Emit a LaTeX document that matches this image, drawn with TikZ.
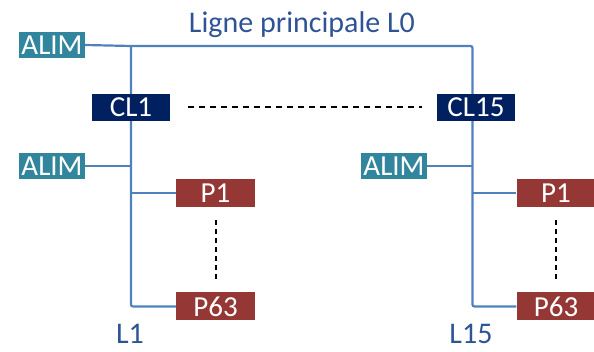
\documentclass[tikz,border=0pt]{standalone}
\usepackage{fontspec}
\setmainfont{Carlito}
\usetikzlibrary{backgrounds}
\definecolor{alimc}{HTML}{31859C}
\definecolor{clc}{HTML}{002060}
\definecolor{pc}{HTML}{953735}
\definecolor{wirec}{HTML}{4F81BD}
\definecolor{labc}{HTML}{2F5496}
\tikzset{
  box/.style={rectangle, inner sep=0pt, text=white, font=\fontsize{29}{32}\selectfont},
  alim/.style={box, fill=alimc, minimum width=66pt, minimum height=26pt},
  clbox/.style={box, fill=clc, minimum width=78pt, minimum height=27pt},
  pbox/.style={box, fill=pc, minimum width=79pt, minimum height=28pt},
  lab/.style={text=labc, inner sep=0pt, anchor=base, font=\fontsize{30}{32}\selectfont},
  wire/.style={draw=wirec, line width=2.2pt},
  hdash/.style={draw=black, line width=2pt, dash pattern=on 6pt off 5pt},
  vdash/.style={draw=black, line width=2pt, dash pattern=on 5pt off 4pt},
}
\begin{document}
\begin{tikzpicture}[x=1pt, y=-1pt]
\useasboundingbox (0,0) rectangle (594,352);

% supplies, couplers and loads
\node[alim]  (alim1) at (52,45)   {ALIM};
\node[alim]  (alim2) at (52,166)  {ALIM};
\node[alim]  (alim3) at (394,166) {ALIM};
\node[clbox] (cl1)   at (131,107.5) {CL1};
\node[clbox] (cl15)  at (476,107.5) {CL15};
\node[pbox]  (lp1)   at (215.5,193) {P1};
\node[pbox]  (lp63)  at (215.5,306.5) {P63};
\node[pbox]  (rp1)   at (556,193) {P1};
\node[pbox]  (rp63)  at (556,306.5) {P63};

% labels
\node[lab] (title) at (302,33)  {Ligne principale L0};
\node[lab] (l1)    at (130,344) {L1};
\node[lab] (l15)   at (471,344) {L15};

\coordinate (tl) at (131,46);
\coordinate (tr) at (472.5,46);

\begin{scope}[on background layer]
  \draw[wire, rounded corners=2pt] (alim1.east) -- (tl) -- (tr) |- (rp63.west);
  \draw[wire, rounded corners=2pt] (tl) |- (lp63.west);
  \draw[wire] (alim2.east) -- (alim2.east -| tl);
  \draw[wire] (lp1.west) -- (lp1.west -| tl);
  \draw[wire] (alim3.east) -- (alim3.east -| tr);
  \draw[wire] (rp1.west) -- (rp1.west -| tr);
\end{scope}

% continuation marks
\draw[hdash] ([xshift=18pt]cl1.east) -- ([xshift=-15pt]cl15.west);
\draw[vdash] ([yshift=-13pt]lp1.south) -- ([yshift=13pt]lp63.north);
\draw[vdash] ([yshift=-13pt]rp1.south) -- ([yshift=13pt]rp63.north);
\end{tikzpicture}
\end{document}
